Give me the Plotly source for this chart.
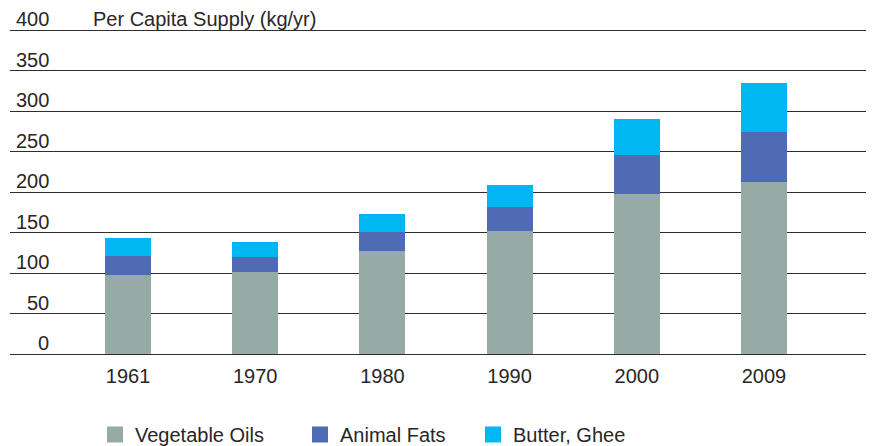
import plotly.graph_objects as go

years = ["1961", "1970", "1980", "1990", "2000", "2009"]
vegetable_oils = [97.5, 101, 127, 152, 197.5, 212]
animal_fats = [23.5, 18.5, 23.5, 29.5, 48, 62]
butter_ghee = [22, 18.5, 22, 27, 44.5, 60.5]
y_ticks = [0, 50, 100, 150, 200, 250, 300, 350, 400]
y_title = "Per Capita Supply (kg/yr)"

series_names = ["Vegetable Oils", "Animal Fats", "Butter, Ghee"]
series_values = [vegetable_oils, animal_fats, butter_ghee]
series_colors = ["#97aba6", "#4e6bb4", "#00b7f1"]
legend_ids = ["legend", "legend2", "legend3"]

FONT = "Liberation Sans"
TXT = "#2a2627"
FS = 20

fig = go.Figure()
for name, vals, color in zip(series_names, series_values, series_colors):
    fig.add_trace(go.Bar(x=years, y=vals, name=name, showlegend=False,
                         marker=dict(color=color, line=dict(width=0))))
# legend entries (square swatches)
for name, color, lg in zip(series_names, series_colors, legend_ids):
    fig.add_trace(go.Scatter(x=[None], y=[None], mode="markers", name=name, legend=lg,
                             marker=dict(symbol="square", size=16, color=color, line=dict(width=0)),
                             showlegend=True))

W, H = 873, 446
ml, mr, mt, mb = 10, 7, 28, 92
pw = W - ml - mr
ph = H - mt - mb

def px_x(p):
    return (p - ml) / pw

def px_y(p):
    return (H - mb - p) / ph

annotations = []
for t in y_ticks:
    annotations.append(dict(x=px_x(51), xref="paper", y=t, yref="y", text=str(t), showarrow=False,
                            xanchor="right", yanchor="bottom", yshift=-2,
                            font=dict(family=FONT, size=FS, color=TXT)))
annotations.append(dict(x=px_x(91), xref="paper", y=400, yref="y", text=y_title, showarrow=False,
                        xanchor="left", yanchor="bottom", yshift=-2,
                        font=dict(family=FONT, size=FS, color=TXT)))

leg_common = dict(orientation="h", yref="paper", y=px_y(434.5), yanchor="middle", xanchor="left",
                  font=dict(family=FONT, size=FS, color=TXT), bgcolor="rgba(0,0,0,0)",
                  itemsizing="trace")

fig.update_layout(
    width=W, height=H,
    margin=dict(l=ml, r=mr, t=mt, b=mb, pad=0, autoexpand=False),
    paper_bgcolor="white", plot_bgcolor="white",
    barmode="stack", bargap=0.638, showlegend=True,
    font=dict(family=FONT, size=FS, color=TXT),
    xaxis=dict(type="category", range=[-0.928, 5.802], showgrid=False, zeroline=False, showline=False,
               ticks="", tickfont=dict(family=FONT, size=FS, color=TXT), ticklabelstandoff=8),
    yaxis=dict(range=[0, 402.5], tickvals=y_ticks, showticklabels=False, showgrid=True,
               gridcolor="#2e2e2e", gridwidth=1.3, zeroline=True, zerolinecolor="#2e2e2e",
               zerolinewidth=1.3, showline=False),
    annotations=annotations,
    legend=dict(x=px_x(95), **leg_common),
    legend2=dict(x=px_x(300), **leg_common),
    legend3=dict(x=px_x(473), **leg_common),
)

fig.write_html("out.html", config={"displayModeBar": False},
               post_script="document.body.style.margin='0px';")
